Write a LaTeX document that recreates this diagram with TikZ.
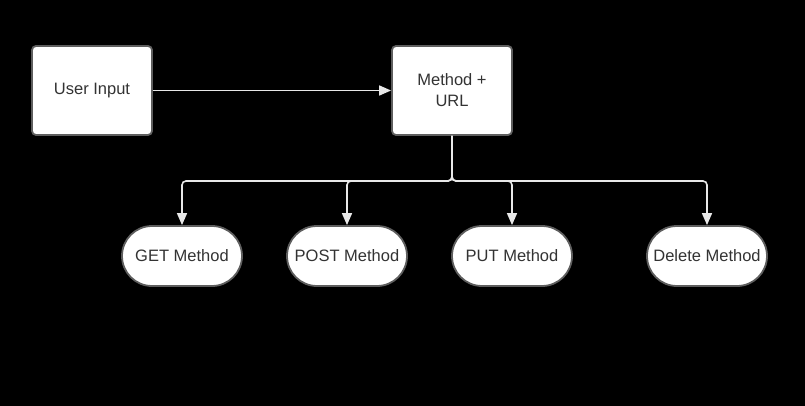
\documentclass[tikz,border=0pt]{standalone}
\usepackage{fontspec}
\setmainfont{Liberation Sans}
\usetikzlibrary{arrows.meta,shapes.misc}
\definecolor{bordergray}{HTML}{5E5E5E}
\definecolor{textgray}{HTML}{333333}
\definecolor{linegray}{HTML}{E8E8E8}
\begin{document}
\begin{tikzpicture}[x=1pt,y=-1pt,
  box/.style={draw=bordergray,line width=1.8pt,fill=white,rounded corners=4pt,
    minimum width=120pt,minimum height=89pt,inner sep=0pt,align=center,
    text=textgray,font=\fontsize{16.5}{21}\selectfont},
  pill/.style={draw=bordergray,line width=1.8pt,fill=white,rounded rectangle,
    minimum width=120pt,minimum height=60pt,inner sep=0pt,align=center,
    text=textgray,font=\fontsize{16.5}{21}\selectfont},
  conn/.style={draw=linegray,line width=1.6pt,-{Triangle[length=12pt,width=10pt]}}]
\fill[black] (0,0) rectangle (805,406);
\useasboundingbox (0,0) rectangle (805,406);
\node[box] (ui) at (92,90.5) {User Input};
\node[box] (mu) at (452,90.5) {Method +\\URL};
\node[pill] (get) at (182,256) {GET Method};
\node[pill] (post) at (347,256) {POST Method};
\node[pill] (put) at (512,256) {PUT Method};
\node[pill] (del) at (707,256) {Delete Method};
\coordinate (bus) at (452,181);
\draw[conn] (ui) -- (mu);
\foreach \t in {get,post,put,del}{
  \draw[conn,rounded corners=4pt] (mu.south) -- (bus) -| (\t.north);
}
\end{tikzpicture}
\end{document}
